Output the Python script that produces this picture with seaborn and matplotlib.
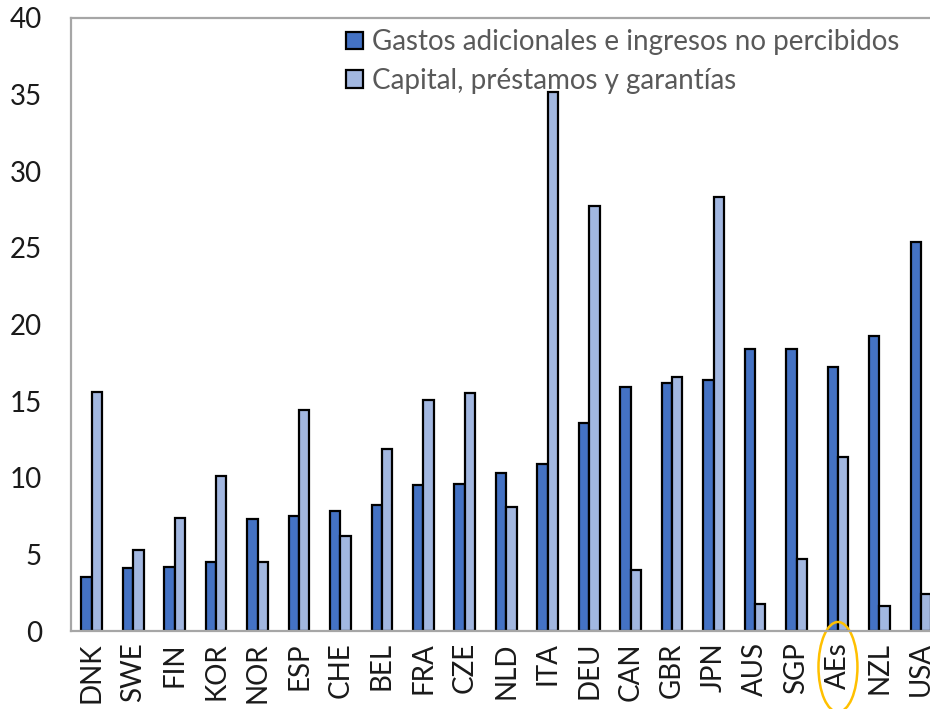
import matplotlib
matplotlib.use("Agg")
import matplotlib.pyplot as plt
from matplotlib.patches import Ellipse
from matplotlib.transforms import blended_transform_factory
import seaborn as sns
import pandas as pd

countries = ["DNK", "SWE", "FIN", "KOR", "NOR", "ESP", "CHE", "BEL", "FRA", "CZE",
             "NLD", "ITA", "DEU", "CAN", "GBR", "JPN", "AUS", "SGP", "AEs", "NZL", "USA"]
gastos = [3.5, 4.1, 4.2, 4.5, 7.3, 7.5, 7.8, 8.2, 9.5, 9.6,
          10.3, 10.9, 13.6, 15.9, 16.2, 16.4, 18.4, 18.4, 17.2, 19.25, 25.4]
capital = [15.6, 5.3, 7.4, 10.1, 4.5, 14.4, 6.2, 11.9, 15.1, 15.5,
           8.1, 35.2, 27.7, 4.0, 16.6, 28.3, 1.75, 4.7, 11.35, 1.6, 2.4]
series_names = ["Gastos adicionales e ingresos no percibidos",
                "Capital, préstamos y garantías"]
colors = ["#4472C4", "#A2B7E0"]

df = pd.DataFrame({
    "pais": countries * 2,
    "valor": gastos + capital,
    "serie": [series_names[0]] * len(countries) + [series_names[1]] * len(countries),
})

sns.set_theme(style="white")
plt.rcParams["font.family"] = ["Lato", "DejaVu Sans"]

W, H = 930, 709
fig = plt.figure(figsize=(W / 100, H / 100), dpi=100)
ax = fig.add_axes([71 / W, (H - 631) / H, (W - 71) / W, (631 - 18) / H])

sns.barplot(data=df, x="pais", y="valor", hue="serie", palette=colors,
            width=0.5, edgecolor="black", linewidth=1.6, ax=ax, saturation=1)

ax.set_xlim(-0.5, 20.22)
ax.set_ylim(0, 40)
ax.set_yticks(range(0, 41, 5))
ax.set_xlabel("")
ax.set_ylabel("")
ax.tick_params(axis="y", labelsize=20, length=0, pad=21, colors="#1a1a1a")
ax.tick_params(axis="x", labelsize=20, length=0, pad=8, rotation=90, colors="#1a1a1a")

for side in ["left", "top", "bottom"]:
    ax.spines[side].set_color("#a6a6a6")
    ax.spines[side].set_linewidth(1.6)
ax.spines["right"].set_visible(False)

leg = ax.legend(loc="upper left", bbox_to_anchor=(335 / W, 1 - 18 / H),
                bbox_transform=fig.transFigure, frameon=False, fontsize=20,
                handlelength=0.6, handleheight=0.6, handletextpad=0.35,
                labelspacing=0.45, borderaxespad=0)
for t in leg.get_texts():
    t.set_color("#595959")

# highlight the aggregate group label
trans = blended_transform_factory(ax.transData, fig.transFigure)
ax.add_patch(Ellipse((countries.index("AEs"), 1 - 667 / H), 0.94, 90 / H,
                     transform=trans, fill=False, edgecolor="#FFC000",
                     linewidth=1.8, clip_on=False))

fig.savefig("out.png", dpi=100)
